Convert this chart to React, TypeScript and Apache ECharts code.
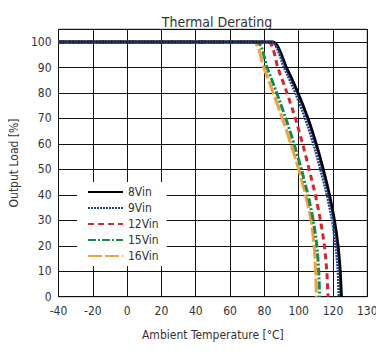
import React, { useEffect, useRef } from "react";
import * as echarts from "echarts";

const seriesNames = ["8Vin", "9Vin", "12Vin", "15Vin", "16Vin"];
const xTickLabels = ["-40", "-20", "0", "20", "40", "60", "80", "100", "120", "130"];

const vin8: [number, number][] = [
  [-40, 100], [85, 100], [92.8, 90], [99.6, 80], [105.4, 70], [110.2, 60],
  [114.3, 50], [117.9, 40], [120.8, 30], [122.9, 20], [124.2, 10], [124.9, 0],
];
const vin9: [number, number][] = [
  [-40, 100], [84.3, 100], [91.6, 90], [98.2, 80], [103.9, 70], [108.7, 60],
  [112.8, 50], [116.6, 40], [119.6, 30], [121.7, 20], [123, 10], [123.5, 0],
];
const vin12: [number, number][] = [
  [-40, 100], [82.3, 100], [87.8, 90], [93.2, 80], [98.1, 70], [102.3, 60],
  [106.1, 50], [109.7, 40], [112.7, 30], [115, 20], [116.4, 10], [117.1, 0],
];
const vin15: [number, number][] = [
  [-40, 100], [75.7, 100], [81.6, 90], [87.2, 80], [92.5, 70], [97.3, 60],
  [101.6, 50], [105.4, 40], [108.5, 30], [110.6, 20], [111.7, 10], [112.2, 0],
];
const vin16: [number, number][] = [
  [-40, 100], [73.8, 100], [79.6, 90], [85.2, 80], [90.5, 70], [95.4, 60],
  [100, 50], [104, 40], [107.2, 30], [109, 20], [109.9, 10], [110.3, 0],
];

const FONT = "'DejaVu Sans Condensed', 'Liberation Sans Narrow', sans-serif";
const TXT = "#333";

export default function App() {
  const ref = useRef<HTMLDivElement>(null);
  useEffect(() => {
    if (!ref.current) return;
    const chart = echarts.init(ref.current, null, { renderer: "svg" });
    const mk = (name: string, data: [number, number][], color: string, type: any, width: number) => ({
      name,
      type: "line",
      data,
      symbol: "none",
      showSymbol: false,
      smooth: 0.2,
      lineStyle: { color, type, width },
      itemStyle: { color },
    });
    chart.setOption({
      animation: false,
      textStyle: { fontFamily: FONT },
      title: {
        text: "Thermal Derating",
        left: 212,
        textAlign: "center",
        top: 10,
        textStyle: { fontFamily: FONT, fontSize: 14, fontWeight: "normal", color: TXT },
      },
      legend: {
        orient: "vertical",
        left: 77,
        top: 182,
        padding: [4, 8, 4, 10],
        backgroundColor: "#fff",
        itemWidth: 35,
        itemHeight: 10,
        itemGap: 4,
        data: seriesNames,
        itemStyle: { opacity: 0 },
        textStyle: { fontFamily: FONT, fontSize: 12, color: TXT },
      },
      grid: {
        left: 57.5,
        right: 16.7,
        top: 29.3,
        bottom: 54.3,
        show: true,
        borderColor: "#111",
        borderWidth: 1,
      },
      xAxis: {
        type: "value",
        min: -40,
        max: 140,
        interval: 20,
        name: "Ambient Temperature [°C]",
        nameLocation: "middle",
        nameGap: 32,
        nameTextStyle: { fontFamily: FONT, fontSize: 12, color: TXT },
        axisLine: { show: true, lineStyle: { color: "#111" } },
        axisTick: { show: false },
        axisLabel: {
          fontFamily: FONT,
          fontSize: 12,
          color: TXT,
          margin: 8,
          formatter: (v: number) => xTickLabels[Math.round((v + 40) / 20)] ?? "",
        },
        splitLine: { show: true, lineStyle: { color: "#111", width: 1 } },
      },
      yAxis: {
        type: "value",
        min: 0,
        max: 105,
        interval: 10,
        name: "Output Load [%]",
        nameLocation: "middle",
        nameGap: 31,
        nameTextStyle: { fontFamily: FONT, fontSize: 12, color: TXT },
        axisLine: { show: true, lineStyle: { color: "#111" } },
        axisTick: { show: false },
        axisLabel: {
          fontFamily: FONT,
          fontSize: 12,
          color: TXT,
          margin: 7,
          formatter: (v: number) => (v > 100 ? "" : String(v)),
        },
        splitLine: { show: true, lineStyle: { color: "#111", width: 1 } },
      },
      series: [
        mk("16Vin", vin16, "#f0a040", [14, 3], 3),
        mk("15Vin", vin15, "#1b8a4c", [8, 2, 2, 2], 3),
        mk("12Vin", vin12, "#d9262e", [6, 4], 3),
        mk("8Vin", vin8, "#000000", "solid", 3),
        mk("9Vin", vin9, "#23418a", [2, 1], 3),
      ],
    });
    return () => chart.dispose();
  }, []);
  return <div ref={ref} style={{ width: 384, height: 351, margin: -8 }} />;
}
